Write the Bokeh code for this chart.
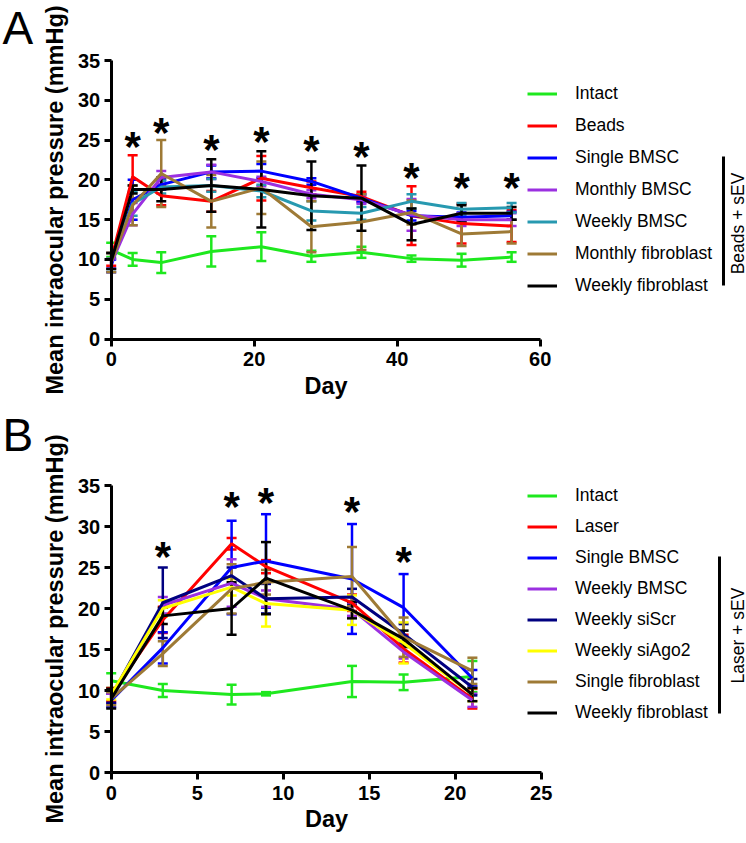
from bokeh.plotting import figure
from bokeh.models import (Range1d, FixedTicker, Whisker, TeeHead, ColumnDataSource,
                          Legend, LegendItem, Label)
from bokeh.layouts import column
from bokeh.core.properties import value
from bokeh.embed import file_html
from bokeh.resources import INLINE

FONT = "Liberation Sans"

# ---------------- Panel A data ----------------
a_days = [0, 3, 7, 14, 21, 28, 35, 42, 49, 56]
a_names = ["Intact", "Beads", "Single BMSC", "Monthly BMSC", "Weekly BMSC",
           "Monthly fibroblast", "Weekly fibroblast"]
a_colors = ["#1EE81E", "#FF0000", "#0000FF", "#9B30E0", "#2799B0", "#9E7A36", "#000000"]
a_intact_mean = [11.2, 10.0, 9.6, 11.0, 11.6, 10.4, 10.9, 10.1, 9.9, 10.3]
a_intact_sd = [0.9, 0.8, 1.3, 1.9, 1.8, 0.7, 0.7, 0.4, 0.8, 0.6]
a_beads_mean = [10.0, 20.4, 18.0, 17.3, 20.2, 19.0, 17.9, 15.5, 14.5, 14.2]
a_beads_sd = [0.8, 2.7, 1.2, 1.3, 2.8, 0.8, 0.6, 3.7, 2.5, 2.0]
a_single_bmsc_mean = [9.2, 17.5, 19.4, 21.0, 21.1, 19.8, 17.7, 15.5, 15.3, 15.5]
a_single_bmsc_sd = [0.8, 2.5, 0.6, 0.8, 0.9, 0.4, 0.5, 0.6, 0.6, 0.5]
a_monthly_bmsc_mean = [9.5, 15.7, 20.3, 21.0, 19.8, 18.2, 17.5, 15.6, 15.0, 15.0]
a_monthly_bmsc_sd = [0.6, 1.4, 0.8, 0.9, 0.6, 0.5, 0.5, 2.0, 0.8, 0.8]
a_weekly_bmsc_mean = [9.8, 17.0, 19.1, 19.3, 18.6, 16.1, 15.8, 17.3, 16.3, 16.5]
a_weekly_bmsc_sd = [1.0, 1.5, 0.8, 0.8, 0.8, 1.2, 0.8, 0.9, 0.8, 0.6]
a_monthly_fib_mean = [9.6, 16.8, 20.8, 17.3, 19.0, 14.1, 14.7, 15.9, 13.2, 13.5]
a_monthly_fib_sd = [1.2, 2.5, 4.2, 3.3, 3.3, 3.2, 3.5, 1.5, 1.5, 1.5]
a_weekly_fib_mean = [9.8, 18.8, 18.8, 19.3, 18.8, 18.0, 17.7, 14.4, 15.8, 15.8]
a_weekly_fib_sd = [1.0, 0.5, 1.5, 3.3, 4.8, 4.3, 4.1, 2.0, 1.0, 0.8]
a_star_days = [3, 7, 14, 21, 28, 35, 42, 49, 56]
a_star_y = [24.9, 26.7, 24.6, 25.6, 24.4, 23.7, 21.0, 19.8, 19.8]
a_xticks = [0, 20, 40, 60]

# ---------------- Panel B data ----------------
b_days = [0, 3, 7, 9, 14, 17, 21]
b_names = ["Intact", "Laser", "Single BMSC", "Weekly BMSC", "Weekly siScr",
           "Weekly siAgo2", "Single fibroblast", "Weekly fibroblast"]
b_colors = ["#1EE81E", "#FF0000", "#0000FF", "#9B30E0", "#000080", "#FFFF00", "#9E7A36", "#000000"]
b_intact_mean = [11.2, 10.0, 9.5, 9.6, 11.1, 11.0, 11.7]
b_intact_sd = [0.9, 0.8, 1.2, 0.2, 1.9, 0.95, 1.9]
b_laser_mean = [9.5, 18.6, 27.9, 25.1, 20.7, 15.1, 9.0]
b_laser_sd = [0.8, 1.6, 0.7, 0.8, 1.0, 1.7, 1.2]
b_single_bmsc_mean = [8.8, 15.2, 25.0, 25.8, 23.6, 20.1, 11.5]
b_single_bmsc_sd = [0.8, 1.9, 5.7, 5.7, 6.7, 4.1, 1.0]
b_weekly_bmsc_mean = [9.0, 20.4, 23.1, 21.2, 19.9, 14.7, 8.8]
b_weekly_bmsc_sd = [0.6, 1.0, 2.9, 1.0, 0.8, 0.8, 0.8]
b_siscr_mean = [9.3, 20.7, 24.0, 21.2, 21.4, 16.9, 10.4]
b_siscr_sd = [0.8, 4.3, 1.0, 1.8, 1.0, 1.2, 1.0]
b_siago2_mean = [9.5, 20.0, 22.6, 20.6, 19.8, 15.8, 9.5]
b_siago2_sd = [0.6, 1.0, 1.0, 2.8, 1.8, 2.5, 0.8]
b_single_fib_mean = [9.0, 14.5, 22.4, 23.2, 23.9, 16.5, 12.4]
b_single_fib_sd = [0.8, 1.5, 3.0, 1.5, 3.6, 2.4, 1.6]
b_weekly_fib_mean = [9.0, 19.1, 20.0, 23.7, 19.8, 16.3, 9.5]
b_weekly_fib_sd = [1.2, 1.0, 3.2, 4.4, 1.0, 1.0, 0.8]
b_star_days = [3, 7, 9, 14, 17]
b_star_y = [27.1, 33.2, 33.6, 32.6, 26.5]
b_xticks = [0, 5, 10, 15, 20, 25]

y_ticks = [0, 5, 10, 15, 20, 25, 30, 35]

# ---------------- layout geometry (page pixels) ----------------
W = 746
AXIS_X0 = 110.7   # page x of day 0


def make_panel(days, names, colors, means, sds, star_days, star_y, xticks, xmax_tick,
               px_per_day, fig_top, fig_h, y0_page, y35_page,
               legend_rows_top, legend_spacing, bar_page, text_page, group_text,
               letter, letter_pos):
    px_per_y = (y0_page - y35_page) / 35.0
    fig_bottom = fig_top + fig_h

    def X(px):
        return (px - AXIS_X0) / px_per_day

    def Y(py):
        return (y0_page - py) / px_per_y

    p = figure(width=W, height=fig_h, output_backend="svg", toolbar_location=None,
               x_range=Range1d(X(0), X(W)), y_range=Range1d(Y(fig_bottom), Y(fig_top)),
               min_border_left=0, min_border_right=0,
               min_border_top=0, min_border_bottom=0)
    p.outline_line_color = None
    p.xgrid.visible = False
    p.ygrid.visible = False

    for ax in (p.xaxis[0], p.yaxis[0]):
        ax.fixed_location = 0
        ax.axis_line_width = 3
        ax.axis_line_color = "black"
        ax.major_tick_line_width = 3
        ax.major_tick_line_color = "black"
        ax.major_tick_out = 7
        ax.major_tick_in = 0
        ax.minor_tick_line_color = None
        ax.major_label_text_font = FONT
        ax.major_label_text_font_style = "bold"
        ax.major_label_text_font_size = "20px"
        ax.major_label_text_color = "black"
        ax.axis_label_text_font = FONT
        ax.axis_label_text_font_style = "bold"
        ax.axis_label_text_font_size = "23.5px"
        ax.axis_label_text_color = "black"
    p.xaxis.ticker = FixedTicker(ticks=xticks)
    p.xaxis.bounds = (0, xmax_tick)
    p.xaxis.axis_label = "Day"
    p.xaxis.major_label_standoff = 6
    p.xaxis.axis_label_standoff = 3
    p.yaxis.ticker = FixedTicker(ticks=y_ticks)
    p.yaxis.bounds = (0, 35)
    p.yaxis.axis_label = "Mean intraocular pressure (mmHg)"
    p.yaxis.major_label_standoff = 4
    p.yaxis.axis_label_standoff = 7

    items = []
    for name, c, m, s in zip(names, colors, means, sds):
        src = ColumnDataSource(dict(x=days, y=m,
                                    upper=[a + b for a, b in zip(m, s)],
                                    lower=[a - b for a, b in zip(m, s)]))
        r = p.line("x", "y", source=src, line_color=c, line_width=3)
        w = Whisker(source=src, base="x", upper="upper", lower="lower",
                    line_color=c, line_width=2.5,
                    upper_head=TeeHead(size=10, line_color=c, line_width=2.5),
                    lower_head=TeeHead(size=10, line_color=c, line_width=2.5))
        p.add_layout(w)
        items.append(LegendItem(label=name, renderers=[r]))

    p.text(x=star_days, y=star_y, text=["*"] * len(star_days),
           text_font=value(FONT), text_font_size="42px", text_font_style="bold",
           text_align="center", text_baseline="alphabetic", y_offset=6,
           text_color="black")

    item_h = 21
    n = len(items)
    legend_bottom_page = legend_rows_top + (n - 1) * (item_h + legend_spacing) + item_h
    legend = Legend(items=items, location=(527, fig_bottom - legend_bottom_page),
                    padding=0, margin=0,
                    spacing=legend_spacing, glyph_width=30, glyph_height=item_h,
                    label_height=item_h, label_standoff=18,
                    label_text_font=FONT, label_text_font_size="17.5px",
                    label_text_color="black",
                    border_line_color=None, background_fill_alpha=0)
    p.add_layout(legend)

    bx, by0, by1 = bar_page
    p.segment(x0=[X(bx)], y0=[Y(by0)], x1=[X(bx)], y1=[Y(by1)],
              line_color="black", line_width=3)
    tx, ty = text_page
    p.add_layout(Label(x=X(tx), y=Y(ty), text=group_text, angle=90, angle_units="deg",
                       text_align="center", text_baseline="middle",
                       text_font=FONT, text_font_size="17.5px", text_color="black"))
    lx, ly = letter_pos
    p.add_layout(Label(x=X(lx), y=Y(ly), text=letter,
                       text_align="left", text_baseline="alphabetic",
                       text_font=FONT, text_font_size="46px", text_color="black"))
    return p


FIG_A_H = 405
FIG_B_H = 843 - FIG_A_H

# Panel A: page coordinates equal canvas coordinates (fig top at 0)
pA = make_panel(a_days, a_names, a_colors,
                [a_intact_mean, a_beads_mean, a_single_bmsc_mean, a_monthly_bmsc_mean,
                 a_weekly_bmsc_mean, a_monthly_fib_mean, a_weekly_fib_mean],
                [a_intact_sd, a_beads_sd, a_single_bmsc_sd, a_monthly_bmsc_sd,
                 a_weekly_bmsc_sd, a_monthly_fib_sd, a_weekly_fib_sd],
                a_star_days, a_star_y, a_xticks, 60, 7.15,
                fig_top=0, fig_h=FIG_A_H, y0_page=338.5, y35_page=60,
                legend_rows_top=83, legend_spacing=11,
                bar_page=(723, 156, 285), text_page=(737, 223),
                group_text="Beads + sEV", letter="A", letter_pos=(2, 27))

# Panel B: coordinates relative to panel B's own canvas (page y - FIG_A_H)
oB = FIG_A_H
pB = make_panel(b_days, b_names, b_colors,
                [b_intact_mean, b_laser_mean, b_single_bmsc_mean, b_weekly_bmsc_mean,
                 b_siscr_mean, b_siago2_mean, b_single_fib_mean, b_weekly_fib_mean],
                [b_intact_sd, b_laser_sd, b_single_bmsc_sd, b_weekly_bmsc_sd,
                 b_siscr_sd, b_siago2_sd, b_single_fib_sd, b_weekly_fib_sd],
                b_star_days, b_star_y, b_xticks, 25, 17.2,
                fig_top=0, fig_h=FIG_B_H, y0_page=772 - oB, y35_page=485 - oB,
                legend_rows_top=484.5 - oB, legend_spacing=10,
                bar_page=(719, 556 - oB, 713 - oB), text_page=(737, 635 - oB),
                group_text="Laser + sEV", letter="B", letter_pos=(2, 434 - oB))

layout = column(pA, pB, spacing=0)
open("out.html", "w").write(file_html(layout, INLINE))
